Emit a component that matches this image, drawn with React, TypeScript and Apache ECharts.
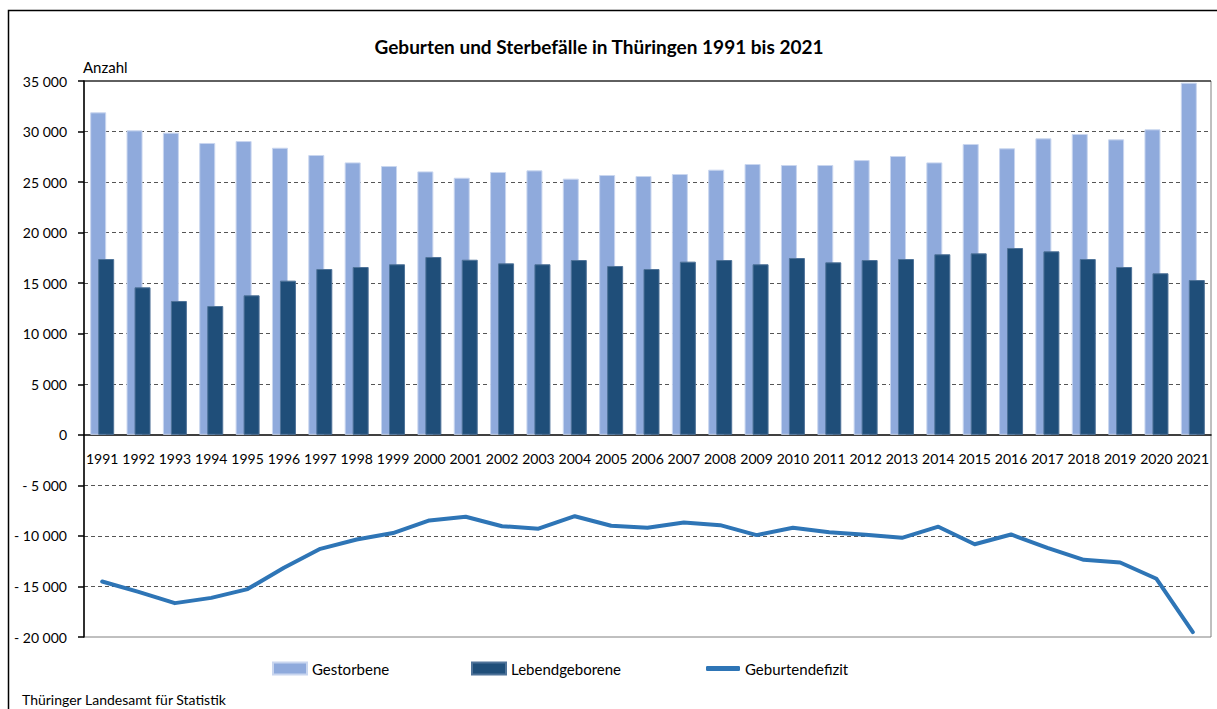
import React, { useEffect, useRef } from "react";
import * as echarts from "echarts";

const years = [
  "1991", "1992", "1993", "1994", "1995", "1996", "1997", "1998", "1999", "2000",
  "2001", "2002", "2003", "2004", "2005", "2006", "2007", "2008", "2009", "2010",
  "2011", "2012", "2013", "2014", "2015", "2016", "2017", "2018", "2019", "2020", "2021",
];

const gestorbene = [
  31900, 30120, 29890, 28870, 29060, 28400, 27680, 26950, 26590, 26060,
  25430, 26000, 26160, 25340, 25700, 25600, 25800, 26230, 26790, 26690,
  26690, 27180, 27580, 26950, 28770, 28340, 29330, 29760, 29230, 30220, 34830,
];

const lebendgeborene = [
  17390, 14590, 13240, 12740, 13800, 15250, 16400, 16600, 16870, 17590,
  17320, 16960, 16870, 17290, 16700, 16400, 17130, 17290, 16870, 17490,
  17060, 17290, 17390, 17860, 17950, 18480, 18150, 17390, 16600, 15980, 15310,
];

const geburtendefizit = [
  -14510, -15530, -16650, -16130, -15260, -13150, -11280, -10350, -9720, -8470,
  -8110, -9040, -9290, -8050, -9000, -9200, -8670, -8940, -9920, -9200,
  -9630, -9890, -10190, -9090, -10820, -9860, -11180, -12370, -12630, -14240, -19520,
];

const seriesNames = ["Gestorbene", "Lebendgeborene", "Geburtendefizit"];
const titleText = "Geburten und Sterbefälle in Thüringen 1991 bis 2021";
const unitText = "Anzahl";
const sourceText = "Thüringer Landesamt für Statistik";

const FONT = "Lato";

function fmt(v: number): string {
  const a = Math.abs(v);
  const s = String(a).replace(/\B(?=(\d{3})+(?!\d))/g, " ");
  return v < 0 ? "- " + s : s;
}

export default function App() {
  const ref = useRef<HTMLDivElement>(null);

  useEffect(() => {
    if (!ref.current) return;
    const chart = echarts.init(ref.current, null, { renderer: "svg" });
    const T = "rgba(0,0,0,0)";
    const D = "#555";
    const splitColors = [T, D, D, D, T, D, D, D, D, D, D, T];
    const legendText = { fontSize: 15, color: "#000", fontFamily: FONT };

    chart.setOption({
      animation: false,
      backgroundColor: "#ffffff",
      textStyle: { fontFamily: FONT },
      grid: {
        left: 84,
        top: 81,
        right: 6,
        bottom: 72,
        show: true,
        borderColor: "#808080",
        borderWidth: 1,
      },
      xAxis: {
        type: "category",
        data: years,
        axisLine: { onZero: true, lineStyle: { color: "#000", width: 1.5 } },
        axisTick: { show: false },
        axisLabel: {
          interval: 0,
          margin: -186,
          fontSize: 14,
          color: "#000",
          fontFamily: FONT,
        },
      },
      yAxis: {
        type: "value",
        min: -20000,
        max: 35000,
        interval: 5000,
        axisLine: { show: true, lineStyle: { color: "#000", width: 1.5 } },
        axisTick: { show: true, length: 6, lineStyle: { color: "#000", width: 1.5 } },
        axisLabel: {
          margin: 17,
          fontSize: 14,
          color: "#000",
          fontFamily: FONT,
          formatter: (v: number) => fmt(v),
        },
        splitLine: {
          show: true,
          lineStyle: { color: splitColors, type: [4, 3], width: 1 },
        },
      },
      legend: [
        {
          data: [seriesNames[0]],
          left: 272,
          top: 661,
          padding: 0,
          itemWidth: 34,
          itemHeight: 12,
          icon: "rect",
          textStyle: legendText,
        },
        {
          data: [seriesNames[1]],
          left: 471,
          top: 661,
          padding: 0,
          itemWidth: 34,
          itemHeight: 12,
          icon: "rect",
          textStyle: legendText,
        },
        {
          data: [seriesNames[2]],
          left: 706,
          top: 661,
          padding: 0,
          itemWidth: 34,
          itemHeight: 5,
          icon: "roundRect",
          textStyle: legendText,
        },
      ],
      series: [
        {
          name: seriesNames[0],
          type: "bar",
          data: gestorbene,
          barWidth: 16,
          barGap: "-50%",
          itemStyle: { color: "#8FAADC", borderColor: "#c9d6ef", borderWidth: 1 },
        },
        {
          name: seriesNames[1],
          type: "bar",
          data: lebendgeborene,
          barWidth: 16,
          barGap: "-50%",
          itemStyle: { color: "#1F4E79", borderColor: "#4f7399", borderWidth: 1 },
        },
        {
          name: seriesNames[2],
          type: "line",
          data: geburtendefizit,
          symbol: "none",
          z: 5,
          itemStyle: { color: "#2E75B6" },
          lineStyle: { color: "#2E75B6", width: 4, cap: "round", join: "round" },
        },
      ],
      graphic: [
        {
          type: "rect",
          shape: { x: 8.5, y: 10.5, width: 1240, height: 740 },
          style: { fill: "none", stroke: "#000", lineWidth: 1.5 },
          silent: true,
        },
        {
          type: "line",
          shape: { x1: 84, y1: 81, x2: 1211, y2: 81 },
          style: { stroke: "#000", lineWidth: 1.2 },
          z: 10,
          silent: true,
        },
        {
          type: "text",
          x: 599,
          y: 46,
          style: {
            text: titleText,
            fontFamily: FONT,
            fontSize: 19,
            fontWeight: "bold",
            fill: "#000",
            align: "center",
            verticalAlign: "middle",
          },
        },
        {
          type: "text",
          x: 83,
          y: 67,
          style: {
            text: unitText,
            fontFamily: FONT,
            fontSize: 15,
            fill: "#000",
            align: "left",
            verticalAlign: "middle",
          },
        },
        {
          type: "text",
          x: 22,
          y: 699,
          style: {
            text: sourceText,
            fontFamily: FONT,
            fontSize: 14,
            fill: "#000",
            align: "left",
            verticalAlign: "middle",
          },
        },
      ],
    });

    return () => {
      chart.dispose();
    };
  }, []);

  return (
    <div
      ref={ref}
      style={{ position: "fixed", left: 0, top: 0, width: 1217, height: 709 }}
    />
  );
}
